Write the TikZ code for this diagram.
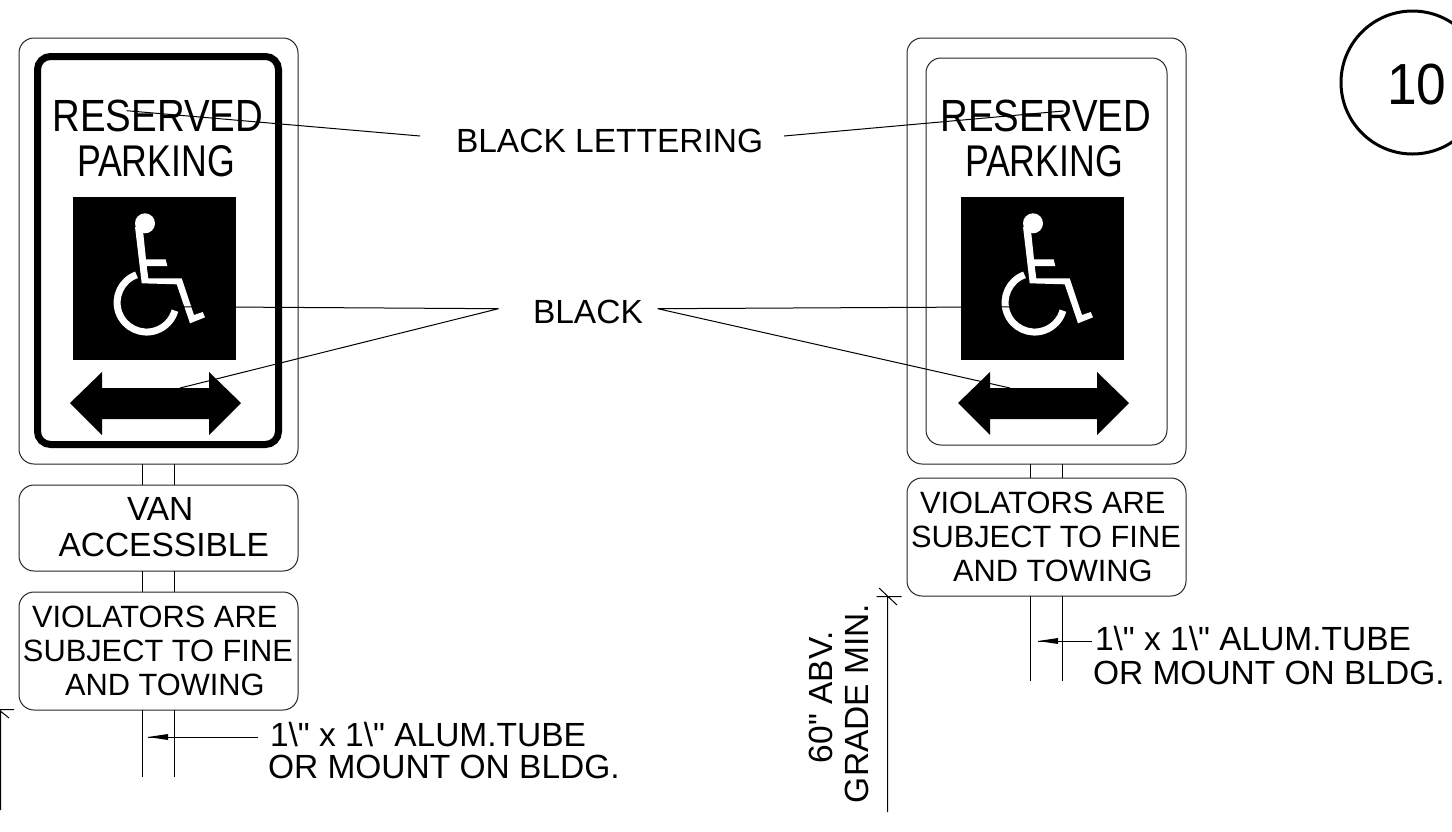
\documentclass[tikz,border=0pt]{standalone}
\usepackage{fontspec}
\setmainfont{Liberation Sans}
\newfontfamily\plainf{Liberation Sans}
\usepackage{graphicx}
\newcommand{\fitbox}[3]{\resizebox{#1pt}{#2pt}{#3}}
\newcommand{\qt}{{\plainf\symbol{34}}}
\tikzset{
  x=1pt,y=-1pt,
  thinline/.style={line width=1pt,black},
  signbox/.style={line width=1pt,draw=black!85,rounded corners=15pt},
  txt/.style={anchor=base west,inner sep=0pt,outer sep=0pt,font=\fontsize{33.5}{33.5}\selectfont},
  viotxt/.style={anchor=base west,inner sep=0pt,outer sep=0pt,font=\fontsize{30.8}{30.8}\selectfont},
  bigtxt/.style={anchor=base west,inner sep=0pt,outer sep=0pt,font=\fontsize{43}{43}\selectfont},
}
\newcommand{\signface}[1]{%
 \begin{scope}[xshift=#1pt]
  \fill (73,197) rectangle (236,360);
  \fill (70,403)--(102,372)--(102,388)--(209,388)--(209,372)--(241,403)--(209,435)--(209,419)--(102,419)--(102,435)--cycle;
  \fill[white] (145,223.3) circle[radius=10pt];
  \fill[white] (135,226.7)--(141.7,283.3)--(176.7,284.3)--(190,323.3)--(205,317.3)--(202.7,312)--(194,315)--(181.7,278.3)--(148.3,278.3)--(146.7,266)--(167.3,266)--(165.7,259.3)--(146,259.3)--(143.3,233.3)--cycle;
  \draw[white,line width=7pt] (136.5,274.8) arc[start angle=110,end angle=344,radius=29.5pt];
  \node[bigtxt] (res#1) at (52.5,131) {\fitbox{210.5}{31.5}{RESERVED}};
  \node[bigtxt] (park#1) at (77,176) {\fitbox{158}{31}{PARKING}};
 \end{scope}}
\begin{document}
\begin{tikzpicture}
\useasboundingbox (0,0) rectangle (1452,831);
\fill[white] (0,0) rectangle (1452,831);
% left sign
\draw[signbox] (19,38) rectangle (298,464);
\draw[line width=7pt,rounded corners=13pt] (37.5,56.5) rectangle (278.5,444.5);
\signface{0}
\draw[thinline] (142,464)--(142,485) (174.5,464)--(174.5,485);
\draw[signbox] (19,485) rectangle (298,571);
\node[txt] (van) at (127,520.7) {VAN};
\node[txt] (acc) at (58.5,556.7) {ACCESSIBLE};
\draw[thinline] (142,571)--(142,592) (174.5,571)--(174.5,592);
\draw[signbox] (19,592) rectangle (298,710);
\node[viotxt] (vio1) at (32,627.7) {VIOLATORS ARE};
\node[viotxt] (vio2) at (23,661) {SUBJECT TO FINE};
\node[viotxt] (vio3) at (65,695) {AND TOWING};
\draw[thinline] (142,710)--(142,777) (174.5,710)--(174.5,777);
\coordinate (ltip) at (148,737);
\coordinate (ltail) at (258,737);
\fill (ltip)--(168,734)--(168,740)--cycle;
\draw[thinline] (ltip)--(ltail);
\node[txt] (tube1) at (270,746.7) {1\textbackslash\qt{} x 1\textbackslash\qt{} ALUM.TUBE};
\node[txt] (tube2) at (268,778) {OR MOUNT ON BLDG.};
\draw[thinline] (0.5,810)--(0.5,709.5)--(14,709.5) (1,711.5)--(9,718);
% right sign
\draw[signbox] (907,38) rectangle (1186,464);
\draw[signbox] (926,58) rectangle (1167,445);
\signface{888}
\draw[thinline] (1030,464)--(1030,478) (1062.3,464)--(1062.3,478);
\draw[signbox] (907,478) rectangle (1186,596);
\node[viotxt] (rvio1) at (920,513.5) {VIOLATORS ARE};
\node[viotxt] (rvio2) at (911,547.5) {SUBJECT TO FINE};
\node[viotxt] (rvio3) at (953,581.5) {AND TOWING};
\draw[thinline] (1030,596)--(1030,681) (1062.3,596)--(1062.3,681);
\coordinate (rtip) at (1038,641);
\coordinate (rtail) at (1091.7,641);
\fill (rtip)--(1058,638)--(1058,644)--cycle;
\draw[thinline] (rtip)--(rtail);
\node[txt] (rtube1) at (1095,650.7) {1\textbackslash\qt{} x 1\textbackslash\qt{} ALUM.TUBE};
\node[txt] (rtube2) at (1093,684) {OR MOUNT ON BLDG.};
\draw[thinline] (887.7,812)--(887.7,596.5) (876.7,596.5)--(901.7,596.5) (879,588)--(897,605);
\node[txt,rotate=90] (dim1) at (832.7,763) {60\qt{} ABV.};
\node[txt,rotate=90] (dim2) at (868,803) {GRADE MIN.};
% labels and leaders
\node[txt] (bl) at (456,152) {BLACK LETTERING};
\node[txt] (b) at (533,323) {BLACK};
\coordinate (ll1) at (126.7,110.7);
\coordinate (ll2) at (420,136);
\coordinate (lr1) at (784,136);
\coordinate (lr2) at (1063.3,111);
\coordinate (bl0) at (498.5,308.7);
\coordinate (br0) at (657.7,308.7);
\draw[thinline] (ll1)--(ll2) (lr1)--(lr2);
\draw[thinline] (bl0)--(176,306.7) (bl0)--(180,388);
\draw[thinline] (br0)--(1040,306.7) (br0)--(1010,388);
% number
\draw[line width=3pt] (1412.5,82.5) circle[radius=71.5pt];
\node[anchor=base west,inner sep=0pt,font=\fontsize{58}{58}\selectfont] (num) at (1387,104) {\scalebox{.92}[1]{10}};
\end{tikzpicture}
\end{document}
